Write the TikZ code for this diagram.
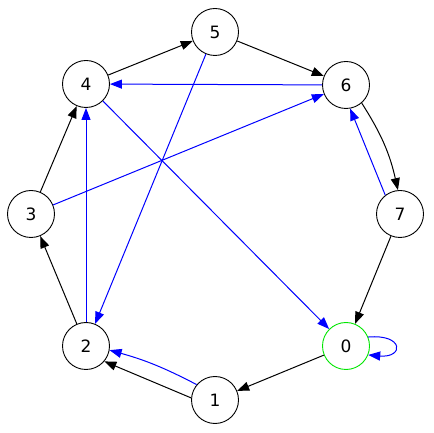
\documentclass[tikz,border=0pt]{standalone}
\usepackage{fontspec}
\setmainfont{DejaVu Sans}
\usetikzlibrary{arrows.meta}
\begin{document}
\begin{tikzpicture}[x=1pt,y=1pt,
  vtx/.style={circle,draw=black,line width=0.9pt,minimum size=47pt,inner sep=0pt,font=\fontsize{17}{17}\selectfont,fill=white},
  blk/.style={draw=black,line width=1pt,-{Triangle[length=12pt,width=9pt]}},
  blu/.style={draw=blue,line width=1pt,-{Triangle[length=12pt,width=9pt]}}]
\useasboundingbox (0,0) rectangle (433,433);
\node[vtx] (n5) at (215,401) {5};
\node[vtx] (n6) at (346,348) {6};
\node[vtx] (n4) at (86,349) {4};
\node[vtx] (n3) at (31,219) {3};
\node[vtx] (n7) at (400,219) {7};
\node[vtx] (n2) at (86,87) {2};
\node[vtx,draw={rgb,255:red,0;green,230;blue,0}] (n0) at (346,87) {0};
\node[vtx] (n1) at (215,33) {1};
% black edges
\draw[blk] (n4) -- (n5);
\draw[blk] (n5) -- (n6);
\draw[blk] (n6.-49) to[bend left=10] (n7.95);
\draw[blk] (n7) -- (n0);
\draw[blk] (n0) -- (n1);
\draw[blk] (n1.175) -- (n2.-40);
\draw[blk] (n2) -- (n3);
\draw[blk] (n3) -- (n4);
% blue edges
\draw[blu] (n0.22) .. controls +(5:36) and +(-5:36) .. (n0.-22);
\draw[blu] (n7.128) -- (n6.-80);
\draw[blu] (n6) -- (n4);
\draw[blu] (n4) -- (n0);
\draw[blu] (n5) -- (n2);
\draw[blu] (n3) -- (n6);
\draw[blu] (n2) -- (n4);
\draw[blu] (n1.140) to[bend right=6] (n2.-10);
\end{tikzpicture}
\end{document}
